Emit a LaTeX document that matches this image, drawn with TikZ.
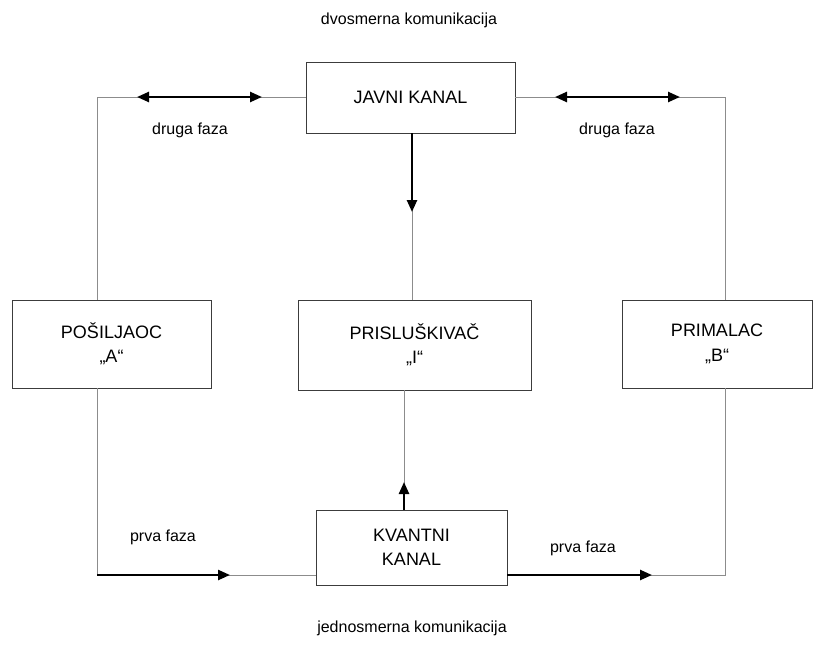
\documentclass[tikz,border=0pt]{standalone}
\usepackage{fontspec}
\setmainfont{Liberation Sans}
\usetikzlibrary{arrows.meta}
\definecolor{wiregray}{HTML}{8C8C8C}
\definecolor{boxgray}{HTML}{3C3C3C}
\begin{document}
\begin{tikzpicture}[x=1pt,y=-1pt,
  box/.style={draw=boxgray, line width=0.9pt, inner sep=0pt, align=center,
    font=\fontsize{18}{24.5}\selectfont},
  wire/.style={draw=wiregray, line width=0.9pt},
  flow/.style={draw=black, line width=2.4pt, -{Triangle[length=12pt,width=10pt]}},
  twoway/.style={draw=black, line width=2.4pt, {Triangle[length=12pt,width=10pt]}-{Triangle[length=12pt,width=10pt]}},
  lbl/.style={font=\fontsize{16}{18}\selectfont}]
\useasboundingbox (0,0) rectangle (814,661);

\node[box, minimum width=209pt, minimum height=71pt] (javni) at (410.5,97.5) {JAVNI KANAL};
\node[box, minimum width=199pt, minimum height=88pt] (posiljaoc) at (111.5,344) {POŠILJAOC\\„A“};
\node[box, minimum width=233pt, minimum height=90pt] (prisluskivac) at (414.5,345) {PRISLUŠKIVAČ\\„I“};
\node[box, minimum width=190pt, minimum height=88pt] (primalac) at (717,344) {PRIMALAC\\„B“};
\node[box, minimum width=191pt, minimum height=75pt] (kvantni) at (411.5,547.5) {KVANTNI\\KANAL};

\node[lbl] (dvosmerna) at (409,20) {dvosmerna komunikacija};
\node[lbl] (drugaA) at (190,130) {druga faza};
\node[lbl] (drugaB) at (617,130) {druga faza};
\node[lbl] (prvaA) at (163,537) {prva faza};
\node[lbl] (prvaB) at (583,548) {prva faza};
\node[lbl] (jednosmerna) at (412,628) {jednosmerna komunikacija};

% corners
\coordinate (tl) at (97,97);
\coordinate (tr) at (725,97);
\coordinate (bl) at (97,575);
\coordinate (br) at (725,575);

% gray connections
\draw[wire] (posiljaoc.north -| tl) -- (tl) -- (javni.west |- tl);
\draw[wire] (javni.east |- tr) -- (tr) -- (primalac.north -| tr);
\draw[wire] (javni.south -| 412,0) -- (prisluskivac.north -| 412,0);
\draw[wire] (posiljaoc.south -| bl) -- (bl) -- (kvantni.west |- bl);
\draw[wire] (kvantni.east |- br) -- (br) -- (primalac.south -| br);
\draw[wire] (kvantni.north -| 404,0) -- (prisluskivac.south -| 404,0);

% thick arrows
\coordinate (a1) at (137,97);
\coordinate (a2) at (262,97);
\coordinate (b1) at (555,97);
\coordinate (b2) at (680,97);
\coordinate (c1) at (412,212);
\coordinate (d1) at (404,482);
\coordinate (e1) at (230,575);
\coordinate (f1) at (652,575);
\draw[twoway] (a1) -- (a2);
\draw[twoway] (b1) -- (b2);
\draw[flow] (javni.south -| c1) -- (c1);
\draw[flow] (kvantni.north -| d1) -- (d1);
\draw[flow] (bl) -- (e1);
\draw[flow] (kvantni.east |- f1) -- (f1);
\end{tikzpicture}
\end{document}
